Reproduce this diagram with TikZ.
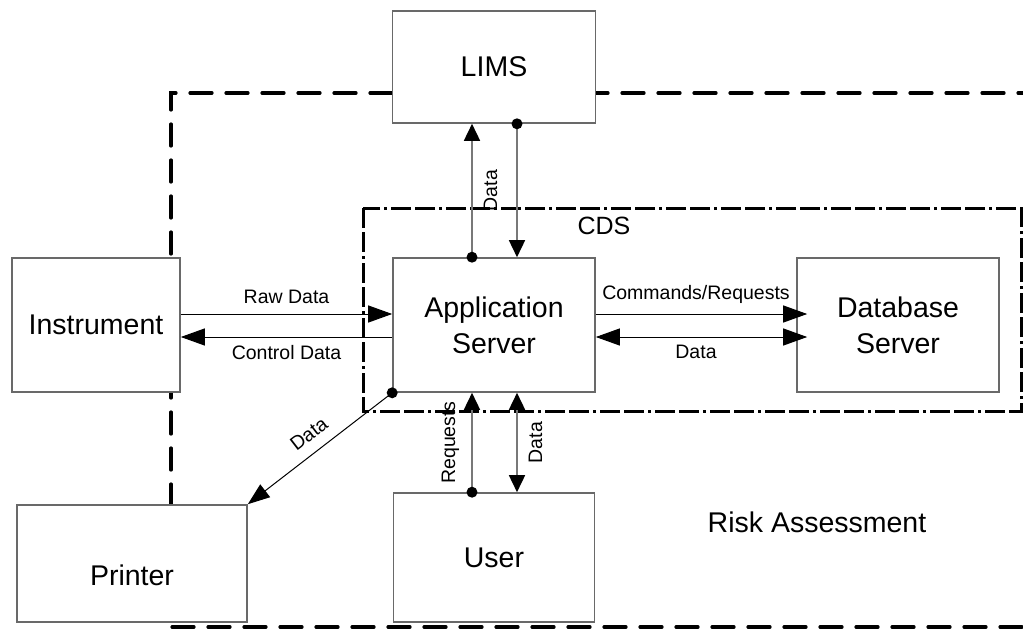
\documentclass[tikz,border=0pt]{standalone}
\usepackage{fontspec}
\setmainfont{Liberation Sans}
\usetikzlibrary{arrows.meta,calc}

\definecolor{boxgray}{RGB}{105,105,105}
\definecolor{linegray}{RGB}{120,120,120}

\tikzset{
  box/.style={draw=boxgray,line width=1.6pt,fill=white,inner sep=0pt,
    font=\fontsize{28.5}{36}\selectfont,align=center},
  lbl/.style={font=\fontsize{19.5}{22}\selectfont,inner sep=2pt},
  bigtext/.style={font=\fontsize{28.5}{34}\selectfont,inner sep=0pt},
  htip/.tip={Triangle[length=24pt,width=17pt,color=black]},
  vtip/.tip={Triangle[length=17pt,width=16pt,color=black]},
  hflow/.style={line width=1pt,-htip},
  hboth/.style={line width=1pt,htip-htip},
  vflow/.style={draw=linegray,line width=1.6pt,-vtip},
  vboth/.style={draw=linegray,line width=1.6pt,vtip-vtip},
  riskline/.style={line width=3.2pt,line cap=round,dash pattern=on 22pt off 14pt},
  cdsline/.style={line width=3pt,dash pattern=on 20pt off 4pt on 20pt off 4pt on 3pt off 4pt},
  dot/.style={fill=black}
}

\begin{document}
\begin{tikzpicture}[x=1pt,y=-1pt]
  \clip (0,0) rectangle (1023,629);
  \fill[white] (0,0) rectangle (1023,629);

  % risk assessment boundary (open to the right)
  \draw[riskline] (1040,93) -- (171,93) -- (171,627) -- (1040,627);
  % chromatography data system boundary
  \draw[cdsline] (363,208) rectangle (1021,411);

  % components
  \node[box,minimum width=203pt,minimum height=112pt] (lims) at (494,67) {LIMS};
  \node[box,minimum width=202pt,minimum height=134pt] (app) at (494,325) {Application\\Server};
  \node[box,minimum width=168pt,minimum height=134pt] (inst) at (96,325) {Instrument};
  \node[box,minimum width=202pt,minimum height=134pt] (db) at (898,325) {Database\\Server};
  \node[box,minimum width=230pt,minimum height=117pt,
        label={[box,draw=none,fill=none,yshift=-12pt]center:Printer}] (prn) at (132,563.5) {};
  \node[box,minimum width=201pt,minimum height=129pt] (user) at (494,557.5) {User};

  \node[font=\fontsize{25}{30}\selectfont,inner sep=0pt] (cds) at (604,226) {CDS};
  \node[bigtext] (risk) at (817,522) {Risk Assessment};

  % LIMS exchange
  \draw[vflow] ([xshift=-22pt]app.north) -- node[lbl,rotate=90,anchor=north,yshift=-9pt] {Data} ([xshift=-22pt]lims.south);
  \draw[vflow] ([xshift=23pt]lims.south) -- ([xshift=23pt]app.north);
  \fill[dot] ([xshift=-22pt]app.north) circle (5.5pt);
  \fill[dot] ([xshift=23pt]lims.south) circle (5.5pt);

  % instrument exchange
  \draw[hflow] ([yshift=11pt]inst.east) -- node[lbl,above=8pt] {Raw Data} ([yshift=11pt]app.west);
  \draw[hflow] ([yshift=-12pt]app.west) -- node[lbl,below=6pt] {Control Data} ([yshift=-12pt]inst.east);

  % database exchange
  \draw[hflow,shorten >=-11pt] ([yshift=11pt]app.east) -- node[lbl,above=8pt] {Commands/Requests} ([yshift=11pt]db.west);
  \draw[hboth,shorten >=-11pt] ([yshift=-12pt]app.east) -- node[lbl,below=6pt] {Data} ([yshift=-12pt]db.west);

  % printer output
  \draw[line width=1pt,-{Triangle[length=22pt,width=16pt]}] (app.south west) -- node[lbl,sloped,above=9pt] {Data} (prn.north east);
  \fill[dot] (app.south west) circle (5.5pt);

  % user exchange
  \draw[vflow] ([xshift=-22pt]user.north) -- node[lbl,rotate=90,anchor=south,yshift=10pt] {Requests} ([xshift=-22pt]app.south);
  \fill[dot] ([xshift=-22pt]user.north) circle (5.5pt);
  \draw[vboth] ([xshift=23pt]app.south) -- node[lbl,rotate=90,anchor=north,yshift=-9pt] {Data} ([xshift=23pt]user.north);
\end{tikzpicture}
\end{document}
